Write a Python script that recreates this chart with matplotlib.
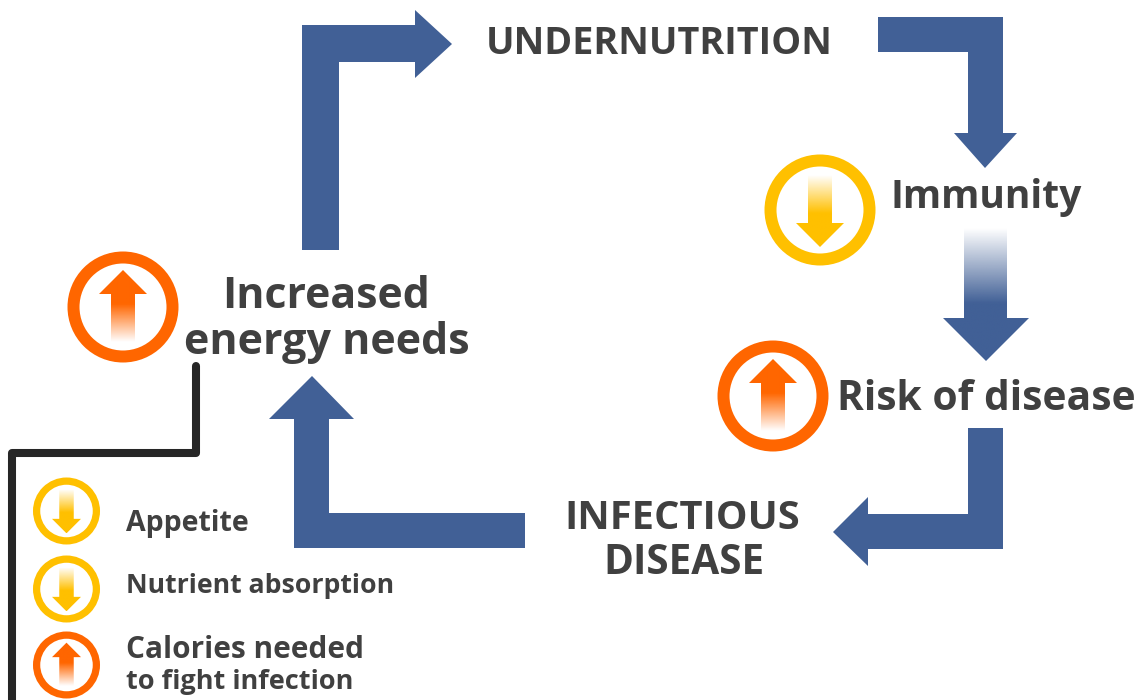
import numpy as np
import matplotlib
matplotlib.use('Agg')
import matplotlib.pyplot as plt
from matplotlib.patches import Polygon, Circle

W, H = 1143, 700
BLUE = '#416096'
GOLD = '#FFC000'
ORANGE = '#FF6600'
DARK = '#404040'
LINE = '#262626'

plt.rcParams['font.family'] = ['Open Sans', 'DejaVu Sans']

# big labels, one entry per line
labels = ['UNDERNUTRITION', 'Immunity', 'Risk of disease', 'INFECTIOUS', 'DISEASE', 'Increased', 'energy needs']
label_x = [659, 986, 986, 682, 684, 326, 327]
label_y = [39, 193, 395, 514, 559, 291, 337]
label_size = [27.2, 28.1, 29.3, 28.7, 29.2, 30.9, 31]

legend_labels = ['Appetite', 'Nutrient absorption', 'Calories needed', 'to fight infection']
legend_y = [520, 583, 646, 679]
legend_size = [20.5, 19.2, 21.4, 19.5]

# bent arrows
arrow_up_right = [(302, 250), (302, 25), (415, 25), (415, 10), (452, 44), (415, 78), (415, 62), (339, 62), (339, 250)]
arrow_right_down = [(878, 17), (1003, 17), (1003, 133), (1017, 133), (985, 168), (954, 133), (968, 133), (968, 52), (878, 52)]
arrow_down_left = [(968, 428), (1003, 428), (1003, 549), (868, 549), (868, 566), (833, 532), (868, 497), (868, 514), (968, 514)]
arrow_left_up = [(525, 513), (329, 513), (329, 419), (354, 419), (312, 376), (269, 419), (294, 419), (294, 548), (525, 548)]

# black connector
line_x = [196, 196, 12, 12]
line_y = [366, 453, 453, 700]

# ring badges: x, y, radius, colour, direction
badge_x = [820, 773, 123, 66.5, 66.5, 66.5]
badge_y = [210, 396, 307, 511, 589, 665]
badge_r = [55.5, 55.5, 55.5, 33.5, 33.5, 33.5]
badge_col = [GOLD, ORANGE, ORANGE, GOLD, GOLD, ORANGE]
badge_dir = [1, -1, -1, 1, 1, -1]


def fade_arrow(ax, pts, col, y0, y1):
    # white at y0 going to col at y1, clipped to the arrow outline
    pts = np.array(pts, dtype=float)
    x0, x1 = pts[:, 0].min(), pts[:, 0].max()
    ya, yb = pts[:, 1].min(), pts[:, 1].max()
    yy = np.linspace(ya, yb, 300)
    a = np.clip((yy - y0) / (y1 - y0), 0, 1)
    img = np.ones((300, 1, 4))
    img[:, 0, :3] = matplotlib.colors.to_rgb(col)
    img[:, 0, 3] = a
    im = ax.imshow(img, extent=[x0, x1, yb, ya], aspect='auto', zorder=3, interpolation='bilinear')
    clip = Polygon(pts, closed=True, transform=ax.transData, fc='none', ec='none')
    ax.add_patch(clip)
    im.set_clip_path(clip)


def badge(ax, x, y, r, col, d):
    s = r / 55.5
    ax.add_patch(Circle((x, y), r - 6 * s, fc='white', ec=col, lw=12 * s * 0.72, zorder=2))
    tip = y + d * 37 * s
    base = y + d * 13 * s
    tail = y - d * 35 * s
    pts = [(x - 12 * s, tail), (x + 12 * s, tail), (x + 12 * s, base), (x + 24 * s, base),
           (x, tip), (x - 24 * s, base), (x - 12 * s, base)]
    fade_arrow(ax, pts, col, tail, y + d * 3 * s)


fig = plt.figure(figsize=(W / 100, H / 100), dpi=100)
ax = fig.add_axes([0, 0, 1, 1])
ax.axis('off')

for arr in [arrow_up_right, arrow_right_down, arrow_down_left, arrow_left_up]:
    ax.add_patch(Polygon(arr, closed=True, fc=BLUE, ec='none', zorder=2))

# middle arrow with the faded shaft
fade_arrow(ax, [(964, 228), (1007, 228), (1007, 318), (1029, 318), (986, 361), (943, 318), (964, 318)], BLUE, 228, 303)

ax.plot(line_x, line_y, color=LINE, lw=5.8, solid_joinstyle='round', solid_capstyle='round', zorder=2)

for i in range(len(badge_x)):
    badge(ax, badge_x[i], badge_y[i], badge_r[i], badge_col[i], badge_dir[i])

for i in range(len(labels)):
    ax.text(label_x[i], label_y[i], labels[i], fontsize=label_size[i], fontweight='bold', color=DARK,
            ha='center', va='center_baseline', zorder=4)

for i in range(len(legend_labels)):
    ax.text(126, legend_y[i], legend_labels[i], fontsize=legend_size[i], fontweight='bold', color=DARK,
            ha='left', va='center_baseline', zorder=4)

ax.set_xlim(0, W)
ax.set_ylim(H, 0)
fig.savefig('out.png', dpi=100, facecolor='white')
